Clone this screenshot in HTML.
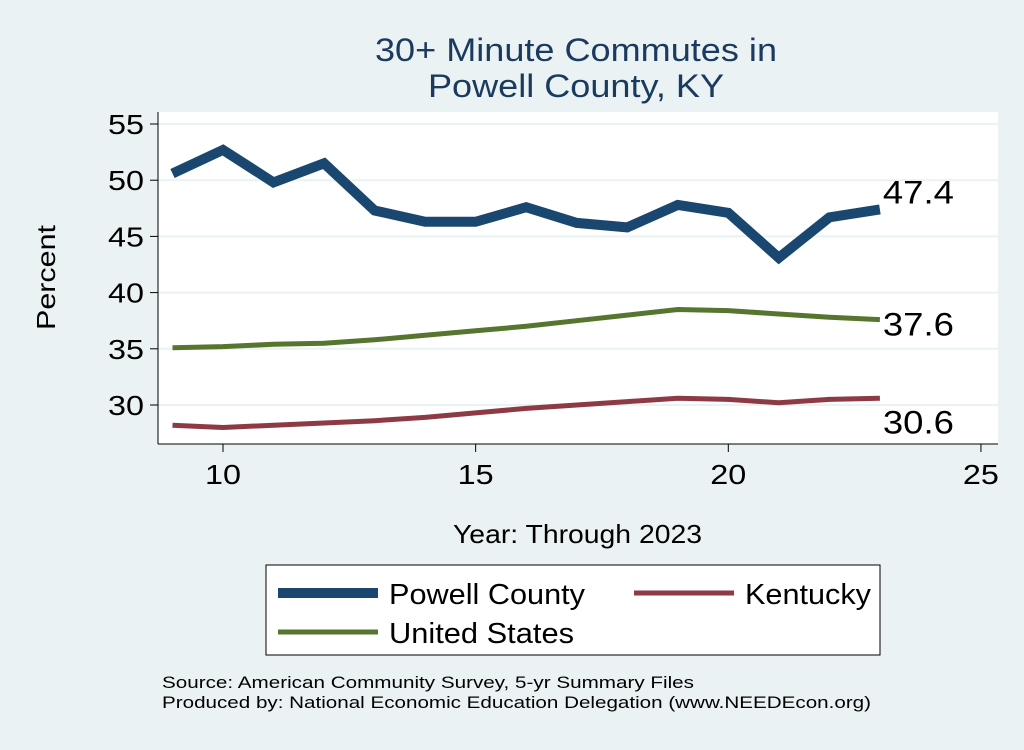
<!DOCTYPE html>
<html><head><meta charset="utf-8">
<style>
html,body{margin:0;padding:0;background:#eaf2f3;}
body{width:1024px;height:745px;overflow:hidden;font-family:"Liberation Sans",Arial,sans-serif;}
</style></head>
<body>
<svg width="1024" height="745" xmlns="http://www.w3.org/2000/svg">
<rect x="0" y="0" width="1024" height="745" fill="#eaf2f3"/>
<text x="375" y="61" font-size="32" fill="#1a3a5e" textLength="402" lengthAdjust="spacingAndGlyphs">30+ Minute Commutes in</text>
<text x="428" y="97" font-size="32" fill="#1a3a5e" textLength="296" lengthAdjust="spacingAndGlyphs">Powell County, KY</text>
<rect x="158" y="112" width="840" height="332" fill="#ffffff"/>
<g id="grid"></g>
<line x1="158" y1="112" x2="158" y2="444" stroke="#000" stroke-width="1"/>
<line x1="158" y1="444" x2="998" y2="444" stroke="#000" stroke-width="1"/>
<g id="axes"></g>
<g id="series"></g>
<text x="0" y="0" font-size="26" transform="translate(55,330) rotate(-90)" textLength="105" lengthAdjust="spacingAndGlyphs">Percent</text>
<text x="453" y="543" font-size="26" textLength="249" lengthAdjust="spacingAndGlyphs">Year: Through 2023</text>
<g>
<rect x="266" y="565" width="614" height="90" fill="#fff" stroke="#000" stroke-width="1"/>
<line x1="278" y1="593" x2="378" y2="593" stroke="#1a4770" stroke-width="10"/>
<text x="389" y="604" font-size="29" textLength="196" lengthAdjust="spacingAndGlyphs">Powell County</text>
<line x1="634" y1="593" x2="734" y2="593" stroke="#8e3a44" stroke-width="5"/>
<text x="745" y="604" font-size="29" textLength="126" lengthAdjust="spacingAndGlyphs">Kentucky</text>
<line x1="278" y1="632" x2="378" y2="632" stroke="#56752e" stroke-width="5"/>
<text x="389" y="643" font-size="29" textLength="185" lengthAdjust="spacingAndGlyphs">United States</text>
</g>
<text x="162" y="688" font-size="17" textLength="532" lengthAdjust="spacingAndGlyphs">Source: American Community Survey, 5-yr Summary Files</text>
<text x="162" y="708" font-size="17" textLength="709" lengthAdjust="spacingAndGlyphs">Produced by: National Economic Education Delegation (www.NEEDEcon.org)</text>
</svg>
<script>
const years=[9,10,11,12,13,14,15,16,17,18,19,20,21,22,23];
const powell=[50.6,52.7,49.8,51.5,47.3,46.3,46.3,47.6,46.2,45.8,47.8,47.1,43.1,46.7,47.4];
const unitedStates=[35.1,35.2,35.4,35.5,35.8,36.2,36.6,37.0,37.5,38.0,38.5,38.4,38.1,37.8,37.6];
const kentucky=[28.2,28.0,28.2,28.4,28.6,28.9,29.3,29.7,30.0,30.3,30.6,30.5,30.2,30.5,30.6];
const xTicks=[10,15,20,25];
const yTicks=[30,35,40,45,50,55];
const NS='http://www.w3.org/2000/svg';
function xs(v){return 223+(v-10)*50.53;}
function ys(v){return 405-(v-30)*11.24;}
function mk(t,a,p){const e=document.createElementNS(NS,t);for(const k in a)e.setAttribute(k,a[k]);if(p)p.appendChild(e);return e;}
const grid=document.getElementById('grid'),axes=document.getElementById('axes'),ser=document.getElementById('series');
yTicks.forEach(v=>{
 const g=mk('line',{x1:158,x2:998,y1:ys(v),y2:ys(v),stroke:'#eaf2f3','stroke-width':2},grid);
 
 
 const t=mk('line',{x1:150,x2:158,y1:ys(v),y2:ys(v),stroke:'#000'},axes);
 
 
 const l=mk('text',{x:144,y:ys(v)+10,'text-anchor':'end','font-size':28,textLength:36,lengthAdjust:'spacingAndGlyphs'},axes);l.textContent=v;
 
 
});
xTicks.forEach(v=>{
 const t=mk('line',{x1:xs(v),x2:xs(v),y1:444,y2:452,stroke:'#000'},axes);
 
 
 const l=mk('text',{x:xs(v)-18,y:484,'font-size':28,textLength:36,lengthAdjust:'spacingAndGlyphs'},axes);l.textContent=v;
 
 
});
function line(data,color,w,name,labelDy){
 const d=data.map((v,i)=>(i?'L':'M')+xs(years[i]).toFixed(1)+','+ys(v).toFixed(1)).join(' ');
 const p=mk('path',{d:d,fill:'none',stroke:color,'stroke-width':w,'stroke-linejoin':'miter'},ser);
 
 
 const last=data[data.length-1];
 const t=mk('text',{x:xs(years[years.length-1])+3,y:ys(last)+labelDy,'font-size':32,textLength:71,lengthAdjust:'spacingAndGlyphs'},ser);
 t.textContent=last.toFixed(1);
 
 
}
line(kentucky,'#8e3a44',5,'kentucky',35);
line(unitedStates,'#56752e',5,'united-states',16);
line(powell,'#1a4770',10,'powell-county',-6);
</script>
</body></html>
